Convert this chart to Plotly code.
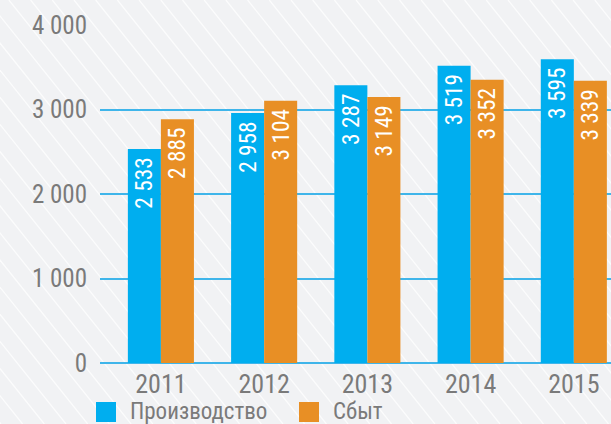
import plotly.graph_objects as go

years = ["2011", "2012", "2013", "2014", "2015"]
production = [2533, 2958, 3287, 3519, 3595]
sales = [2885, 3104, 3149, 3352, 3339]
series_names = ["Производство", "Сбыт"]
y_ticks = [0, 1000, 2000, 3000, 4000]

BLUE = "#00aeef"
ORANGE = "#e88f25"
GRAY = "#7a7a7a"
FONT = "Liberation Sans Narrow, Roboto Condensed, DejaVu Sans Condensed, Roboto, sans-serif"

W, H = 611, 424
ML, MR, MT, MB = 100, 0, 25, 61
PW, PH = W - ML - MR, H - MT - MB

def px(x):
    return (x - ML) / PW

def py(y):
    return (H - MB - y) / PH

fig = go.Figure()
for name, vals, col in [(series_names[0], production, BLUE), (series_names[1], sales, ORANGE)]:
    fig.add_trace(go.Bar(
        x=years, y=vals, name=name, marker=dict(color=col, line=dict(width=0)),
        texttemplate="%{y:,d}\u00a0", textposition="inside", insidetextanchor="end",
        textangle=-90, insidetextfont=dict(color="white", size=25, family=FONT),
        showlegend=False,
    ))

shapes = []
# diagonal background stripes
slope = 1.25
x0 = -360.0
while x0 < W + 10:
    shapes.append(dict(type="line", xref="paper", yref="paper",
                       x0=px(x0), y0=py(0), x1=px(x0 + H / slope), y1=py(H),
                       line=dict(color="rgba(255,255,255,0.75)", width=1.3), layer="below"))
    x0 += 21.7

# legend swatches
annotations = []
for (lx, tx), name, col in zip([(96, 128), (299, 331)], series_names, [BLUE, ORANGE]):
    shapes.append(dict(type="rect", xref="paper", yref="paper",
                       x0=px(lx), x1=px(lx + 20), y0=py(402), y1=py(422),
                       fillcolor=col, line=dict(width=0), layer="above"))
    annotations.append(dict(xref="paper", yref="paper", x=px(tx), y=py(411),
                            xanchor="left", yanchor="middle", showarrow=False,
                            text=name, font=dict(size=23, color=GRAY, family=FONT)))

fig.update_layout(
    width=W, height=H, margin=dict(l=ML, r=MR, t=MT, b=MB),
    paper_bgcolor="#f1f2f4", plot_bgcolor="rgba(0,0,0,0)",
    barmode="group", bargap=0.36, bargroupgap=0,
    separators=". ",
    font=dict(family=FONT, color=GRAY),
    shapes=shapes, annotations=annotations,
    xaxis=dict(type="category", range=[-0.59, 4.36], showgrid=False, zeroline=False,
               showline=False, ticks="", tickfont=dict(size=26, color=GRAY, family=FONT),
               ticklabelstandoff=3),
    yaxis=dict(range=[0, 4000], tickvals=y_ticks, tickformat=",d", showgrid=True,
               gridcolor="#3fb5ea", gridwidth=1.5, zeroline=True, zerolinecolor="#3fb5ea",
               zerolinewidth=1.5, showline=False, ticks="",
               tickfont=dict(size=25, color=GRAY, family=FONT), ticklabelstandoff=12),
)

fig.write_html("out.html", config={"displayModeBar": False},
               post_script="document.body.style.margin='0';document.body.style.background='#f1f2f4';")
